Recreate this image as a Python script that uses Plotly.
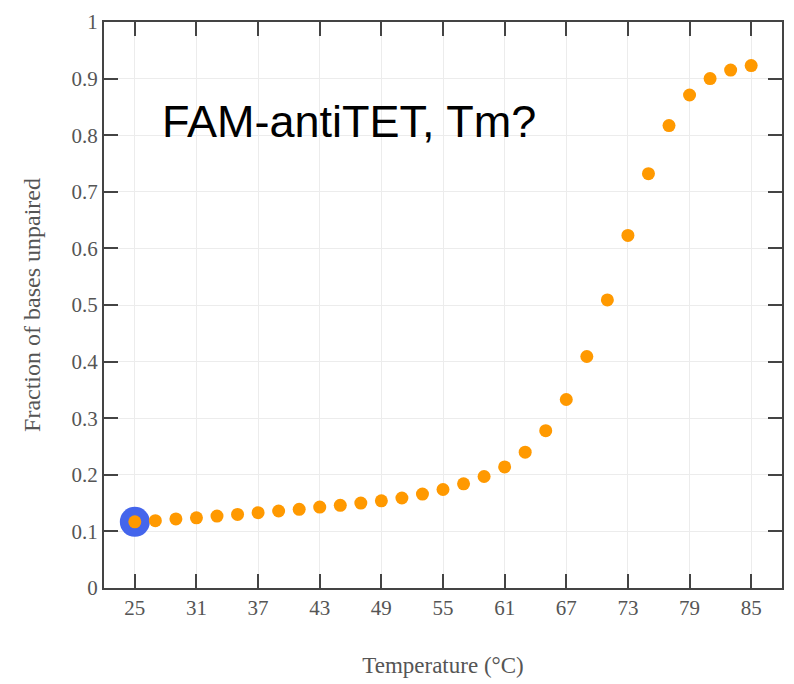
import plotly.graph_objects as go

temperature = [25, 27, 29, 31, 33, 35, 37, 39, 41, 43, 45, 47, 49, 51, 53, 55,
               57, 59, 61, 63, 65, 67, 69, 71, 73, 75, 77, 79, 81, 83, 85]
fraction_unpaired = [0.117, 0.119, 0.122, 0.124, 0.127, 0.130, 0.133, 0.136,
                     0.139, 0.143, 0.146, 0.150, 0.154, 0.159, 0.166, 0.174,
                     0.184, 0.197, 0.214, 0.240, 0.278, 0.333, 0.409, 0.509,
                     0.623, 0.732, 0.817, 0.871, 0.900, 0.915, 0.923]
highlight_x = [25]
highlight_y = [0.117]
x_ticks = [25, 31, 37, 43, 49, 55, 61, 67, 73, 79, 85]
y_ticks = [0, 0.1, 0.2, 0.3, 0.4, 0.5, 0.6, 0.7, 0.8, 0.9, 1]
annotation_text = "FAM-antiTET, Tm?"

fig = go.Figure()
fig.add_trace(go.Scatter(x=highlight_x, y=highlight_y, mode="markers",
                         marker=dict(size=30, color="#4465ec"),
                         hoverinfo="skip", showlegend=False))
fig.add_trace(go.Scatter(x=temperature, y=fraction_unpaired, mode="markers",
                         marker=dict(size=13, color="#ff9900"),
                         showlegend=False))

axis_common = dict(
    showline=True, linecolor="#444", linewidth=2, mirror="ticks",
    ticks="inside", ticklen=14, tickwidth=2, tickcolor="#444",
    showgrid=True, gridcolor="#ececec", gridwidth=1, zeroline=False,
    tickfont=dict(family="Liberation Serif", size=21, color="#555"),
)
fig.update_xaxes(range=[22, 88], tickvals=x_ticks,
                 title=dict(text="Temperature (°C)", standoff=38,
                            font=dict(family="Liberation Serif", size=23, color="#555")),
                 **axis_common)
fig.update_yaxes(range=[0, 1], tickvals=y_ticks,
                 title=dict(text="Fraction of bases unpaired", standoff=24,
                            font=dict(family="Liberation Serif", size=24, color="#555")),
                 **axis_common)

fig.add_annotation(text=annotation_text, xref="paper", yref="paper",
                   x=(160 - 104) / 680, y=(588 - 114) / 575,
                   xanchor="left", yanchor="middle", showarrow=False,
                   font=dict(family="Liberation Sans", size=45, color="#000"))

fig.update_layout(width=794, height=684,
                  margin=dict(l=104, r=10, t=13, b=96),
                  paper_bgcolor="white", plot_bgcolor="white")
fig.write_html("out.html")
